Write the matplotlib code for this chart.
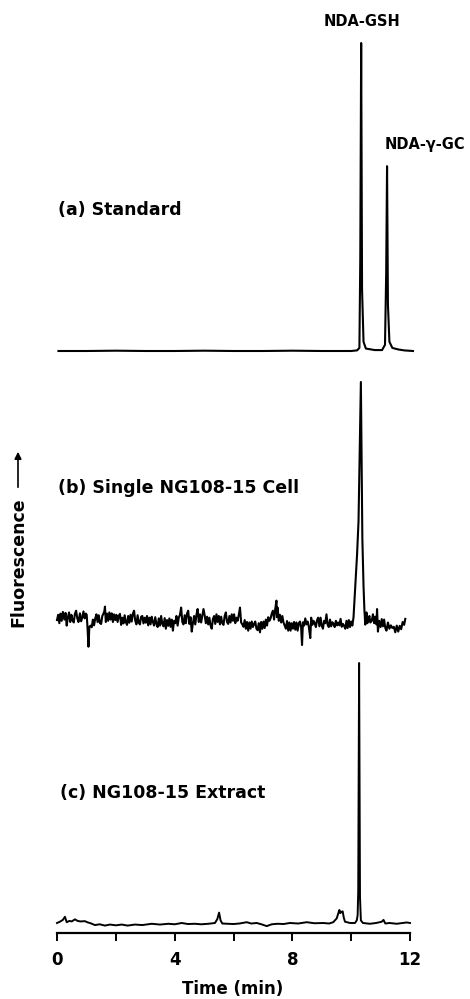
import matplotlib
matplotlib.use("Agg")
import matplotlib.pyplot as plt
from matplotlib.patches import FancyArrowPatch

# (a) standard: time (min), fluorescence (arb. units, GSH peak = 100)
std_time = [0.05, 1.0, 2.0, 3.0, 4.0, 5.0, 6.0, 7.0, 8.0, 9.0, 10.0, 10.20, 10.28,
            10.31, 10.34, 10.37, 10.42, 10.5, 10.8, 11.05, 11.15, 11.19, 11.22, 11.25,
            11.3, 11.4, 11.6, 11.8, 12.1]
std_signal = [0, 0, 0.1, 0, 0, 0.1, 0, 0, 0.1, 0, 0, 0.2, 1, 30, 100, 20, 3, 0.8,
              0.3, 0.3, 2, 25, 60, 15, 3, 1, 0.5, 0.2, 0]

# (b) single NG108-15 cell
cell_time = [
    0.00, 0.04, 0.08, 0.12, 0.16, 0.20, 0.25, 0.29, 0.33, 0.37, 0.41, 0.45, 0.49,
    0.53, 0.57, 0.61, 0.65, 0.69, 0.73, 0.78, 0.82, 0.86, 0.90, 0.94, 0.98, 1.01,
    1.04, 1.07, 1.10,
    1.14, 1.18, 1.22, 1.26, 1.30, 1.34, 1.38, 1.42, 1.46, 1.50, 1.54, 1.58, 1.61,
    1.63, 1.66, 1.70, 1.74, 1.78, 1.82, 1.86, 1.90, 1.94, 1.98,
    2.02, 2.06, 2.10, 2.14, 2.18, 2.22, 2.26, 2.30, 2.34, 2.38, 2.42, 2.46, 2.50,
    2.54, 2.58, 2.62, 2.66, 2.70, 2.74, 2.78, 2.82, 2.86, 2.90, 2.94, 2.98,
    3.02, 3.06, 3.10, 3.14, 3.18, 3.22, 3.26, 3.30, 3.34, 3.38, 3.42, 3.46, 3.50,
    3.54, 3.58, 3.62, 3.66, 3.70, 3.74, 3.78, 3.82, 3.86, 3.90, 3.94, 3.98,
    4.02, 4.06, 4.10, 4.14, 4.18, 4.22, 4.26, 4.30, 4.34, 4.38, 4.42, 4.46, 4.50,
    4.54, 4.58, 4.62, 4.66, 4.70, 4.74, 4.78, 4.82, 4.86, 4.90, 4.94, 4.98,
    5.02, 5.06, 5.10, 5.14, 5.18, 5.22, 5.26, 5.30, 5.34, 5.38, 5.42, 5.46, 5.50,
    5.54, 5.58, 5.62, 5.66, 5.70, 5.74, 5.78, 5.82, 5.86, 5.90, 5.94, 5.98,
    6.02, 6.06, 6.10, 6.14, 6.18, 6.22, 6.26, 6.30, 6.34, 6.38, 6.42, 6.46, 6.50,
    6.54, 6.58, 6.62, 6.66, 6.70, 6.74, 6.78, 6.82, 6.86, 6.90, 6.94, 6.98,
    7.02, 7.06, 7.10, 7.14, 7.18, 7.22, 7.26, 7.30, 7.34, 7.38, 7.42, 7.46, 7.48,
    7.50, 7.54, 7.58, 7.62, 7.66, 7.70, 7.74, 7.78, 7.82, 7.86, 7.90, 7.94, 7.98,
    8.02, 8.06, 8.10, 8.14, 8.18, 8.22, 8.26, 8.30, 8.33, 8.36, 8.40, 8.44, 8.48,
    8.52, 8.56, 8.61, 8.64, 8.68, 8.72, 8.76, 8.80, 8.84, 8.88, 8.92, 8.96,
    9.00, 9.04, 9.08, 9.12, 9.16, 9.20, 9.24, 9.28, 9.32, 9.36, 9.40, 9.44, 9.48,
    9.52, 9.56, 9.60, 9.64, 9.68, 9.72, 9.76, 9.80, 9.84, 9.88, 9.92, 9.96, 10.00,
    10.04,
    10.08, 10.14, 10.20, 10.25, 10.30, 10.33, 10.36, 10.38, 10.42, 10.45, 10.48,
    10.52, 10.55, 10.58, 10.62, 10.65, 10.70, 10.74, 10.78, 10.82, 10.86, 10.88,
    10.91, 10.95, 11.00, 11.04, 11.08, 11.12, 11.16, 11.20, 11.25, 11.30, 11.35,
    11.40, 11.45, 11.50, 11.55, 11.60, 11.65, 11.70, 11.75, 11.80, 11.84]
cell_signal = [
    0.8, 3.0, -0.5, 3.5, 0.5, 4.2, 1.0, 3.8, -1.5, 2.0, 4.0, 0.0, 3.0,
    0.8, -0.2, 3.5, 4.7, 1.5, 0.0, 3.6, 0.3, 2.0, 4.4, 1.5, 3.5, 3.0,
    -3.0, -10.3, -2.0,
    -1.5, -2.2, 1.0, -1.4, 1.5, 3.2, 0.0, 2.8, -0.5, -0.8, 2.5, 3.5, 4.5,
    6.4, 0.0, 3.5, 0.5, 4.0, 1.0, 3.6, 0.0, 3.2, 0.8,
    3.0, 0.0, 2.5, 3.4, -1.2, 1.8, -0.6, 2.8, 0.0, -1.2, 2.5, -0.3, 3.0,
    0.2, 3.5, 4.7, 0.5, -1.0, 2.8, -0.3, -1.0, 2.2, 2.5, -0.6, 1.8,
    -0.3, 2.5, -1.4, 1.8, -1.0, 2.2, 0.0, -1.5, 2.0, -0.8, -2.1, 1.5, -1.5,
    2.5, -0.8, -1.8, 1.6, -2.8, 0.8, -1.6, 1.5, -2.0, 1.0, -3.6, 0.5,
    -0.5, 2.5, -1.5, 1.8, 3.0, 6.0, 0.0, -1.0, 2.8, -0.5, 3.5, 4.7, -0.8,
    2.0, -4.0, -0.5, 2.5, -1.0, 3.0, 5.4, 0.0, 3.2, -0.2, 2.5, 5.4,
    2.8, -0.5, 2.2, -1.0, 1.8, -1.5, -2.8, 1.2, 2.5, -0.8, 3.2, 0.0, 2.5,
    -1.0, 2.2, -0.5, -1.2, 2.5, 4.0, 0.0, -0.8, 2.5, -0.2, 3.2, 0.5,
    3.2, -0.5, 1.8, 0.5, 3.0, 6.0, -0.2, -1.0, -2.0, 0.8, -2.8, 0.0, -3.6,
    -0.2, -2.8, 0.2, -2.1, -0.8, 0.2, -2.8, -3.4, -0.5, -4.3, 0.0, -2.8,
    0.2, -2.5, 1.0, -1.5, 2.0, 0.5, 1.5, 3.5, 4.7, 1.0, 5.5, 8.9, 2.0,
    6.0, 0.5, 3.0, -0.2, 2.5, -0.2, -1.5, -2.8, 0.4, -3.6, -0.2, -3.6, -0.5,
    -2.8, 0.0, -3.2, -0.2, -3.6, -0.5, 0.2, -2.5, -9.6, -0.1, -1.5, 1.5, -1.0,
    0.2, -2.0, -6.7, 1.8, -1.2, 0.5, -0.5, -2.1, 0.8, 1.8, -1.8, 1.8,
    -1.5, -2.8, 0.5, -0.5, 3.2, -1.2, -2.1, 1.0, -1.8, -0.1, -0.8, -2.1, 0.5,
    -1.4, -0.2, -1.4, 1.3, -2.0, -0.8, -1.6, -2.8, 0.5, -2.5, 0.8, -2.1, 0.2,
    -1.5,
    2.0, 15, 28, 42, 80, 100, 60, 35, 15, 5, -1.1,
    4.0, -0.5, 1.0, 2.5, -0.2, 0.5, 3.2, -0.5, 2.2, -1.0, 5.4,
    -4.0, 0.5, -2.1, 1.2, -1.8, 1.0, -2.5, -3.6, -0.2, -2.8, -1.4,
    -2.5, -2.0, -4.3, -1.5, -4.0, -1.6, -3.0, 0.0, -1.2, 1.3]

# (c) NG108-15 extract
ext_time = [0.0, 0.10, 0.20, 0.27, 0.33, 0.42, 0.50, 0.61, 0.70, 0.80, 0.95, 1.05,
            1.12, 1.29, 1.45, 1.63, 1.80, 2.00, 2.20, 2.40, 2.65, 2.90, 3.22, 3.50,
            3.79, 4.00, 4.24, 4.45, 4.69, 4.90, 5.15, 5.37, 5.45, 5.51, 5.56, 5.62,
            5.80, 6.00, 6.20, 6.45, 6.60, 6.79, 6.95, 7.13, 7.30, 7.50, 7.70, 7.92,
            8.20, 8.49, 8.75, 9.05, 9.25, 9.39, 9.51, 9.57, 9.60, 9.63, 9.66, 9.71,
            9.75, 9.79, 9.96, 10.13, 10.19, 10.22, 10.24, 10.27, 10.30, 10.33, 10.40,
            10.64, 10.85, 11.04, 11.10, 11.16, 11.30, 11.55, 11.75, 11.89, 12.0]
ext_signal = [0, 0.5, 1.2, 2.4, 0.3, 0.8, 0.6, 1.4, 0.8, 0.6, 0.7, 0.2,
              0.0, -0.8, -0.5, -1.0, -0.6, -0.9, -0.6, -1.0, -0.6, -0.8, -0.3, -0.6,
              -0.3, -0.5, 0.0, -0.4, -0.3, -0.5, -0.3, 0.0, 1.5, 4.0, 1.0, -0.2,
              -0.3, -0.4, -0.2, 0.3, -0.2, 0.0, -0.5, -1.2, -0.5, -0.3, -0.4, 0.0,
              -0.2, 0.3, -0.1, 0.0, -0.2, 0.3, 1.8, 4.0, 5.0, 3.8, 4.2, 4.5,
              2.0, 0.5, 0.0, 0.0, 1.0, 3.0, 12, 100, 10, 1.0, 0.0,
              -0.3, 0.0, 0.5, 1.2, -0.2, 0.0, -0.3, 0.0, 0.2, 0.0]

x_ticks = [0, 2, 4, 6, 8, 10, 12]
x_ticklabels = ["0", "", "4", "", "8", "", "12"]

W, H = 470, 999
plt.rcParams["font.family"] = ["DejaVu Sans"]
plt.rcParams["font.weight"] = "bold"

fig = plt.figure(figsize=(W / 100, H / 100), dpi=100)


def add_panel(top_px, bottom_px, ylim, t, y, lw=1.4):
    ax = fig.add_axes([57 / W, 1 - bottom_px / H, 353 / W, (bottom_px - top_px) / H])
    ax.plot(t, y, color="black", lw=lw, clip_on=False)
    ax.set_xlim(0, 12)
    ax.set_ylim(*ylim)
    for s in ax.spines.values():
        s.set_visible(False)
    ax.set_yticks([])
    ax.set_xticks([])
    ax.patch.set_alpha(0)
    return ax


ax_a = add_panel(27.6, 366.4, (-5, 105), std_time, std_signal, lw=1.5)
ax_b = add_panel(370, 658, (-15, 105), cell_time, cell_signal, lw=1.5)
ax_c = add_panel(650, 933, (-3.85, 105), ext_time, ext_signal, lw=1.4)

ax_c.spines["bottom"].set_visible(True)
ax_c.spines["bottom"].set_linewidth(1.6)
ax_c.set_xticks(x_ticks)
ax_c.set_xticklabels(x_ticklabels, fontsize=12, fontweight="bold")
ax_c.tick_params(axis="x", direction="out", length=6, width=1.4, pad=7)

fig.text(233 / W, 1 - 989 / H, "Time (min)", ha="center", va="center",
         fontsize=12, fontweight="bold")

fig.text(58 / W, 1 - 210 / H, "(a) Standard", ha="left", va="center",
         fontsize=12.5, fontweight="bold")
fig.text(58 / W, 1 - 488 / H, "(b) Single NG108-15 Cell", ha="left", va="center",
         fontsize=12.5, fontweight="bold")
fig.text(60 / W, 1 - 793 / H, "(c) NG108-15 Extract", ha="left", va="center",
         fontsize=12.5, fontweight="bold")

fig.text(362 / W, 1 - 22 / H, "NDA-GSH", ha="center", va="center",
         fontsize=10.5, fontweight="bold")
fig.text(425 / W, 1 - 145 / H, "NDA-\u03b3-GC", ha="center", va="center",
         fontsize=10.5, fontweight="bold")

fig.text(18 / W, 1 - 562 / H, "Fluorescence", rotation=90, ha="center", va="center",
         fontsize=12.5, fontweight="bold")
arrow = FancyArrowPatch((18 / W, 1 - 490 / H), (18 / W, 1 - 449 / H),
                        transform=fig.transFigure, arrowstyle="-|>",
                        mutation_scale=10, lw=1.2, color="black")
fig.add_artist(arrow)

fig.savefig("out.png", dpi=100)
